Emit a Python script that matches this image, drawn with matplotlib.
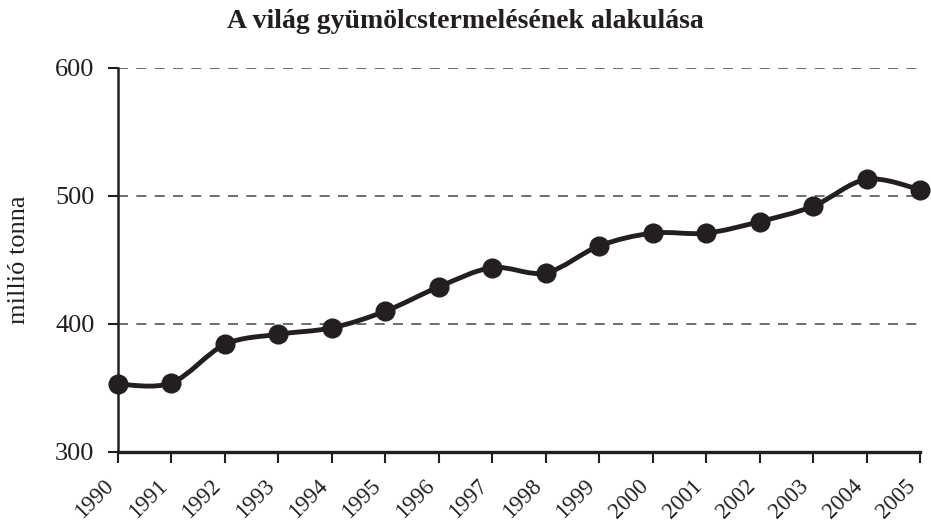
import numpy as np
import matplotlib.pyplot as plt
import matplotlib.transforms as mtransforms
from matplotlib.path import Path
from matplotlib.patches import PathPatch

plt.rcParams['font.family'] = ['Liberation Serif', 'DejaVu Serif']

years = list(range(1990, 2006))
values = [353, 354, 384, 392, 397, 410, 429, 444, 440, 461, 471, 471, 480, 492, 513, 505]
title = "A világ gyümölcstermelésének alakulása"
ylabel = "millió tonna"


# smooth curve through the points (cubic bezier, catmull-rom style)
def smooth_path(x, y, k=1 / 6):
    x = np.asarray(x, float)
    y = np.asarray(y, float)
    verts = [(x[0], y[0])]
    codes = [Path.MOVETO]
    n = len(x)
    for i in range(n - 1):
        p0 = i - 1 if i > 0 else i
        p3 = i + 2 if i + 2 < n else i + 1
        c1 = (x[i] + (x[i + 1] - x[p0]) * k, y[i] + (y[i + 1] - y[p0]) * k)
        c2 = (x[i + 1] - (x[p3] - x[i]) * k, y[i + 1] - (y[p3] - y[i]) * k)
        verts += [c1, c2, (x[i + 1], y[i + 1])]
        codes += [Path.CURVE4] * 3
    return Path(verts, codes)


fig = plt.figure(figsize=(9.31, 5.25), dpi=100, facecolor='white')
ax = fig.add_axes([118 / 931, 1 - 452 / 525, (920 - 118) / 931, (452 - 68) / 525])

ax.add_patch(PathPatch(smooth_path(years, values), facecolor='none',
                       edgecolor='#231f20', linewidth=3.5, zorder=3, clip_on=False))
ax.plot(years, values, 'o', color='#231f20', markersize=13.5, zorder=4, clip_on=False)

ax.set_xlim(1990, 2005)
ax.set_ylim(300, 600)
ax.set_yticks([300, 400, 500, 600])
ax.set_xticks(years)
ax.set_xticklabels([str(y) for y in years], rotation=45, ha='right', va='top')
offset = mtransforms.ScaledTranslation(5 / 100, 0, fig.dpi_scale_trans)
for lab in ax.get_xticklabels():
    lab.set_transform(lab.get_transform() + offset)
for yv in [400, 500, 600]:
    ax.axhline(yv, color='#555555', linestyle=(0, (6, 5)), linewidth=1.2, zorder=1)

for s in ['top', 'right']:
    ax.spines[s].set_visible(False)
ax.spines['left'].set_linewidth(1.8)
ax.spines['bottom'].set_linewidth(2.4)
ax.spines['left'].set_color('#231f20')
ax.spines['bottom'].set_color('#231f20')
ax.tick_params(axis='y', direction='out', length=7, width=1.5, labelsize=19, pad=10,
               colors='#231f20')
ax.tick_params(axis='x', direction='out', length=8, width=1.5, labelsize=16.5, pad=9,
               colors='#231f20')
ax.set_ylabel(ylabel, fontsize=19, color='#231f20')
ax.yaxis.set_label_coords(-88 / 802, 0.5)

fig.text(0.5, 1 - 22 / 525, title, ha='center', va='center', fontsize=20,
         fontweight='bold', color='#231f20')

plt.savefig('out.png', dpi=100, facecolor='white')
